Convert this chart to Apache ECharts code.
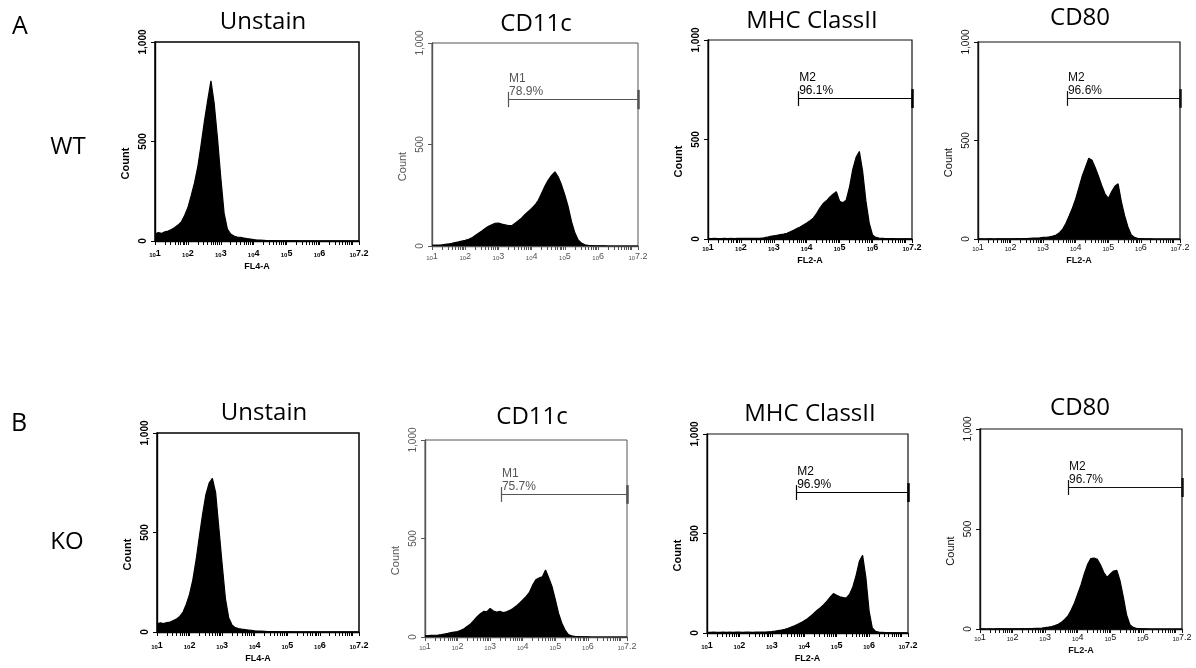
<!DOCTYPE html>
<html>
<head>
<meta charset="utf-8">
<script src="https://cdn.jsdelivr.net/npm/echarts@6/dist/echarts.min.js"></script>
<style>
  html, body { margin: 0; padding: 0; background: #fff; }
  #chart { width: 1196px; height: 668px; }
</style>
</head>
<body>
<div id="chart"></div>
<script>
// Channel bins (log10 of fluorescence), 10^1 .. 10^7.2
const BINS = [
  1.0, 1.1, 1.2, 1.3, 1.4, 1.5, 1.6, 1.7, 1.8, 1.9,
  2.0, 2.1, 2.2, 2.3, 2.4, 2.5, 2.6, 2.7, 2.8, 2.9,
  3.0, 3.1, 3.2, 3.3, 3.4, 3.5, 3.6, 3.7, 3.8, 3.9,
  4.0, 4.1, 4.2, 4.3, 4.4, 4.5, 4.6, 4.7, 4.8, 4.9,
  5.0, 5.1, 5.2, 5.3, 5.4, 5.5, 5.6, 5.7, 5.8, 5.9,
  6.0, 6.1, 6.2, 6.3, 6.4, 6.5, 6.6, 6.7, 6.8, 6.9,
  7.0, 7.1, 7.2
]

// Counts per bin
const WT_UNSTAIN = [
  35, 42, 38, 46, 50, 58, 68, 80, 96, 128,
  168, 228, 292, 372, 482, 600, 705, 805, 690, 515,
  318, 140, 60, 35, 25, 20, 18, 15, 12, 10,
  7, 5, 4, 3, 2, 2, 2, 1, 1, 1,
  1, 1, 1, 1, 0, 0, 0, 0, 0, 0,
  0, 0, 0, 0, 0, 0, 0, 0, 0, 0,
  0, 0, 0
]
const WT_CD11C = [
  3, 4, 5, 6, 8, 10, 13, 17, 20, 24,
  28, 33, 40, 52, 63, 74, 86, 97, 105, 112,
  113, 108, 104, 100, 100, 112, 125, 138, 155, 170,
  185, 202, 225, 260, 295, 325, 348, 365, 340, 300,
  250, 192, 120, 65, 30, 14, 6, 3, 2, 1,
  1, 1, 1, 0, 0, 0, 0, 0, 0, 0,
  0, 0, 0
]
const WT_MHC = [
  2, 2, 3, 2, 2, 3, 2, 3, 2, 3,
  3, 3, 3, 3, 3, 3, 4, 6, 9, 13,
  16, 19, 22, 25, 29, 36, 44, 52, 60, 70,
  80, 92, 105, 128, 155, 178, 192, 210, 225, 238,
  190, 182, 195, 260, 350, 410, 440, 340, 190, 80,
  20, 8, 4, 3, 2, 2, 2, 1, 1, 1,
  1, 1, 1
]
const WT_CD80 = [
  0, 1, 0, 1, 1, 0, 1, 1, 1, 1,
  1, 1, 2, 1, 2, 2, 3, 4, 5, 6,
  8, 9, 11, 15, 20, 32, 50, 80, 118, 158,
  205, 262, 320, 365, 410, 400, 362, 318, 270, 228,
  206, 240, 268, 280, 190, 118, 62, 22, 8, 3,
  2, 1, 1, 1, 0, 0, 0, 0, 0, 0,
  0, 0, 0
]
const KO_UNSTAIN = [
  40, 46, 42, 47, 50, 57, 65, 78, 100, 140,
  190, 262, 362, 480, 592, 690, 748, 772, 700, 520,
  340, 168, 72, 36, 22, 17, 14, 12, 10, 8,
  6, 5, 4, 3, 2, 2, 2, 1, 1, 1,
  1, 1, 0, 0, 0, 0, 0, 0, 0, 0,
  0, 0, 0, 0, 0, 0, 0, 0, 0, 0,
  0, 0, 0
]
const KO_CD11C = [
  6, 7, 8, 9, 10, 12, 15, 18, 22, 25,
  28, 34, 42, 55, 66, 84, 103, 118, 130, 128,
  145, 132, 126, 130, 124, 128, 135, 145, 157, 172,
  188, 205, 225, 262, 290, 300, 305, 340, 300, 255,
  190, 120, 70, 35, 12, 6, 3, 2, 1, 1,
  1, 0, 0, 0, 0, 0, 0, 0, 0, 0,
  0, 0, 0
]
const KO_MHC = [
  3, 3, 4, 3, 3, 4, 3, 4, 3, 4,
  4, 3, 4, 4, 3, 4, 4, 5, 5, 6,
  7, 9, 12, 15, 18, 23, 30, 36, 44, 52,
  62, 72, 85, 100, 115, 127, 142, 160, 180, 198,
  190, 182, 178, 176, 195, 233, 290, 360, 390, 280,
  110, 25, 8, 4, 3, 2, 2, 1, 1, 1,
  1, 1, 1
]
const KO_CD80 = [
  0, 1, 0, 1, 0, 1, 1, 1, 1, 1,
  1, 1, 1, 2, 1, 2, 2, 3, 3, 4,
  7, 9, 12, 17, 24, 34, 48, 65, 95, 130,
  175, 220, 275, 322, 352, 355, 348, 320, 282, 258,
  275, 290, 293, 240, 160, 70, 22, 8, 3, 2,
  1, 1, 0, 0, 0, 0, 0, 0, 0, 0,
  0, 0, 0
]

// Panel order: WT row then KO row, columns Unstain / CD11c / MHC ClassII / CD80
const SERIES_DATA = [WT_UNSTAIN, WT_CD11C, WT_MHC, WT_CD80, KO_UNSTAIN, KO_CD11C, KO_MHC, KO_CD80]
const TITLES = ['Unstain', 'CD11c', 'MHC ClassII', 'CD80', 'Unstain', 'CD11c', 'MHC ClassII', 'CD80']
const X_NAMES = ['FL4-A', '', 'FL2-A', 'FL2-A', 'FL4-A', '', 'FL2-A', 'FL2-A']
const Y_TICK_LABELS = ['0', '500', '1,000']
const X_LABEL_DECADES = [1, 2, 3, 4, 5, 6, 7.2]
const X_TICK_MANTISSAS = [1, 2, 3, 4, 5, 6, 7, 8, 9]

// Marker gates (null = no gate)
const GATE_NAMES = [null, 'M1', 'M2', 'M2', null, 'M1', 'M2', 'M2']
const GATE_PCTS = [null, '78.9%', '96.1%', '96.6%', null, '75.7%', '96.9%', '96.7%']
const GATE_STARTS = [null, 3.29, 3.74, 3.73, null, 3.33, 3.75, 3.70]
const GATE_LEVELS = [null, 724, 708, 716, null, 726, 708, 710]
const GATE_END = 7.2

// Row / sample labels
const ROW_LETTERS = ['A', 'B']
const ROW_SAMPLES = ['WT', 'KO']

// Layout (pixels)
const BOXES = [
  [155, 42, 204, 199], [432, 43, 206, 203], [708, 40, 204, 199], [978, 42, 202, 197],
  [157, 433, 202, 199], [425, 440, 202, 197], [707, 434, 201, 199], [980, 429, 202, 200]
]
const TITLE_POS = [[263, 22], [536, 24], [812, 21], [1080, 18], [264, 413], [532, 417], [810, 414], [1080, 408]]
const LETTER_POS = [[20, 27], [19, 424]]
const SAMPLE_POS = [[68, 147], [67, 542]]
const X_LABEL_MARGIN = [8, 6, 4, 4, 9, 5, 8, 4]
const X_NAME_GAP = [17, 0, 15, 15, 17, 0, 19, 15]

// Per-column ink (the scanned panels differ a little)
const COLUMN_STYLE = [
  { ink: '#000', weight: 'bold', frame: '#000', frameW: 1.5 },
  { ink: '#555', weight: 'normal', frame: '#555', frameW: 1 },
  { ink: '#000', weight: 'bold', frame: '#111', frameW: 1.2 },
  { ink: '#111', weight: 'normal', frame: '#111', frameW: 1.2 }
]

const SMALL_FONT = '"Liberation Sans", Arial, sans-serif'
const BIG_FONT = '"Open Sans", sans-serif'

const xTicks = []
for (let d = 1; d <= 7; d++) {
  for (const m of X_TICK_MANTISSAS) {
    const v = d + Math.log10(m)
    if (v <= 7.2) xTicks.push(+v.toFixed(4))
  }
}
xTicks.push(7.2)

const chart = echarts.init(document.getElementById('chart'))

const grids = []
const xAxes = []
const yAxes = []
const series = []

SERIES_DATA.forEach((data, i) => {
  const st = COLUMN_STYLE[i % 4]
  const [left, top, width, height] = BOXES[i]
  grids.push({
    left, top, width, height,
    show: true,
    borderColor: st.frame,
    borderWidth: st.frameW,
    backgroundColor: 'transparent',
    containLabel: false
  })

  xAxes.push({
    gridIndex: i,
    type: 'value',
    min: 1,
    max: 7.2,
    name: X_NAMES[i],
    nameLocation: 'middle',
    nameGap: X_NAME_GAP[i],
    nameTextStyle: { fontFamily: SMALL_FONT, fontSize: 9, fontWeight: 'bold', color: st.ink },
    axisLine: { show: true, onZero: false, lineStyle: { color: st.ink, width: 1.4 } },
    axisTick: { show: true, customValues: xTicks, length: 4, lineStyle: { color: st.ink, width: 1 } },
    axisLabel: {
      customValues: X_LABEL_DECADES,
      margin: X_LABEL_MARGIN[i],
      formatter: (v) => '{b|10}{s|' + v + '}',
      rich: {
        b: { fontFamily: SMALL_FONT, fontSize: 6, lineHeight: 7, verticalAlign: 'bottom', color: st.ink, fontWeight: st.weight },
        s: { fontFamily: SMALL_FONT, fontSize: 9, lineHeight: 9, padding: [0, 0, 3, 0], verticalAlign: 'top', color: st.ink, fontWeight: st.weight }
      }
    },
    splitLine: { show: false }
  })

  yAxes.push({
    gridIndex: i,
    type: 'value',
    min: 0,
    max: 1000,
    interval: 500,
    name: 'Count',
    nameLocation: 'middle',
    nameGap: 24,
    nameTextStyle: {
      fontFamily: SMALL_FONT, fontSize: 11, fontWeight: st.weight, color: st.ink,
      padding: [0, 44, 0, 0]
    },
    axisLine: { show: true, lineStyle: { color: st.ink, width: 1.4 } },
    axisTick: { show: true, length: 4, lineStyle: { color: st.ink, width: 1 } },
    axisLabel: {
      rotate: 90,
      margin: 7,
      fontFamily: SMALL_FONT,
      fontSize: 10,
      fontWeight: st.weight,
      color: st.ink,
      formatter: (v) => Y_TICK_LABELS[Math.round(v / 500)]
    },
    splitLine: { show: false }
  })

  const s = {
    type: 'line',
    xAxisIndex: i,
    yAxisIndex: i,
    data: BINS.map((b, k) => [b, data[k]]),
    showSymbol: false,
    symbol: 'none',
    lineStyle: { color: '#000', width: 1.2 },
    itemStyle: { color: '#000' },
    areaStyle: { color: '#000', opacity: 1 },
    silent: true,
    z: 3
  }

  if (GATE_NAMES[i]) {
    const lvl = GATE_LEVELS[i]
    const x0 = GATE_STARTS[i]
    s.markLine = {
      silent: true,
      symbol: ['none', 'none'],
      animation: false,
      lineStyle: { type: 'solid', color: st.ink, width: 1.2 },
      data: [
        [
          {
            coord: [x0, lvl],
            label: {
              show: true,
              position: 'insideStartTop',
              distance: [1, 1],
              formatter: GATE_NAMES[i] + '\n' + GATE_PCTS[i],
              fontFamily: SMALL_FONT,
              fontSize: 12,
              lineHeight: 13,
              color: st.ink,
              fontWeight: 'normal'
            }
          },
          { coord: [GATE_END, lvl] }
        ],
        [
          { coord: [x0, lvl - 40], label: { show: false } },
          { coord: [x0, lvl + 35] }
        ],
        [
          { coord: [GATE_END, lvl - 50], label: { show: false }, lineStyle: { width: 2.5 } },
          { coord: [GATE_END, lvl + 45] }
        ]
      ]
    }
  }
  series.push(s)
})

const graphics = []
TITLES.forEach((t, i) => {
  graphics.push({
    type: 'text',
    x: TITLE_POS[i][0],
    y: TITLE_POS[i][1],
    style: { text: t, fontFamily: BIG_FONT, fontSize: 24, fill: '#000', align: 'center', verticalAlign: 'middle' }
  })
})
ROW_LETTERS.forEach((t, r) => {
  graphics.push({
    type: 'text',
    x: LETTER_POS[r][0],
    y: LETTER_POS[r][1],
    style: { text: t, fontFamily: BIG_FONT, fontSize: 25, fill: '#000', align: 'center', verticalAlign: 'middle' }
  })
  graphics.push({
    type: 'text',
    x: SAMPLE_POS[r][0],
    y: SAMPLE_POS[r][1],
    style: { text: ROW_SAMPLES[r], fontFamily: BIG_FONT, fontSize: 24, fill: '#000', align: 'center', verticalAlign: 'middle' }
  })
})

chart.setOption({
  animation: false,
  backgroundColor: '#fff',
  grid: grids,
  xAxis: xAxes,
  yAxis: yAxes,
  series,
  graphic: graphics
})
</script>
</body>
</html>
